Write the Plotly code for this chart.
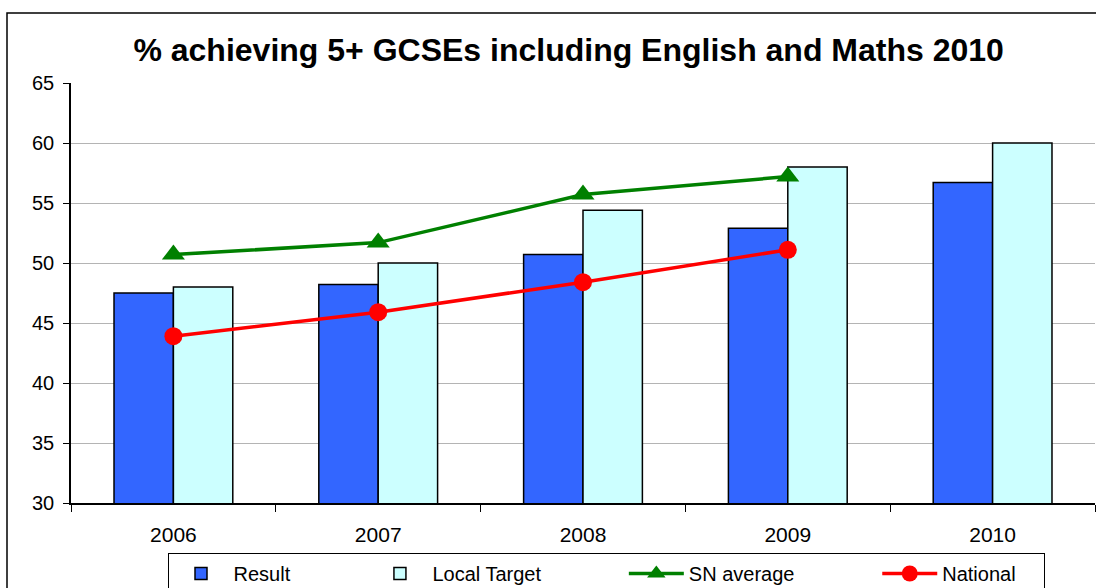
import plotly.graph_objects as go

years = ["2006", "2007", "2008", "2009", "2010"]
result = [47.5, 48.2, 50.7, 52.9, 56.7]
local_target = [48.0, 50.0, 54.4, 58.0, 60.0]
sn_years = ["2006", "2007", "2008", "2009"]
sn_average = [50.7, 51.7, 55.7, 57.2]
national = [43.9, 45.9, 48.4, 51.1]

FONT = "Liberation Sans, Arial, sans-serif"
NB = "\u00a0"

fig = go.Figure()
fig.add_trace(go.Bar(x=years, y=result, name="Result" + NB * 13,
                     marker=dict(color="#3366FF", line=dict(color="black", width=1.5))))
fig.add_trace(go.Bar(x=years, y=local_target, name="Local Target" + NB * 14,
                     marker=dict(color="#CCFFFF", line=dict(color="black", width=1.5))))
fig.add_trace(go.Scatter(x=sn_years, y=sn_average, name="SN average" + NB * 14,
                         mode="lines+markers",
                         line=dict(color="#008000", width=3.5),
                         marker=dict(symbol="triangle-up", size=20, color="#008000")))
fig.add_trace(go.Scatter(x=sn_years, y=national, name="National" + NB * 4,
                         mode="lines+markers",
                         line=dict(color="#FF0000", width=3.5),
                         marker=dict(symbol="circle", size=18, color="#FF0000")))

fig.update_layout(
    width=1096, height=588,
    margin=dict(l=71, r=1, t=83, b=85),
    paper_bgcolor="white", plot_bgcolor="white",
    font=dict(family=FONT, size=20, color="black"),
    barmode="group", bargap=0.42, bargroupgap=0,
    title=dict(text="<b>% achieving 5+ GCSEs including English and Maths 2010</b>",
               font=dict(size=32, family=FONT, color="black"),
               xref="paper", x=0.486, xanchor="center",
               yref="container", y=1 - 50 / 588, yanchor="middle"),
    xaxis=dict(type="category", showline=True, linecolor="black", linewidth=1.5,
               ticks="outside", ticklen=7, tickcolor="black", tickson="boundaries",
               showgrid=False, tickfont=dict(size=21), ticklabelstandoff=12),
    yaxis=dict(range=[30, 65], dtick=5, showline=True, linecolor="black", linewidth=1.5,
               ticks="outside", ticklen=6, tickcolor="black",
               showgrid=True, gridcolor="#b4b4b4", gridwidth=1.2,
               tickfont=dict(size=20), zeroline=False, ticklabelstandoff=5),
    legend=dict(orientation="h", xref="container", x=606 / 1096, xanchor="center",
                yref="container", y=1 - 553 / 588, yanchor="top",
                bordercolor="black", borderwidth=1, bgcolor="white",
                font=dict(size=20), itemwidth=55, tracegroupgap=0),
    shapes=[dict(type="rect", xref="paper", yref="paper",
                 x0=(7 - 71) / 1024, x1=1.05, y0=-0.5, y1=1 + (83 - 13) / 420,
                 line=dict(color="black", width=1.5), layer="below")],
)

fig.write_html("out.html")
